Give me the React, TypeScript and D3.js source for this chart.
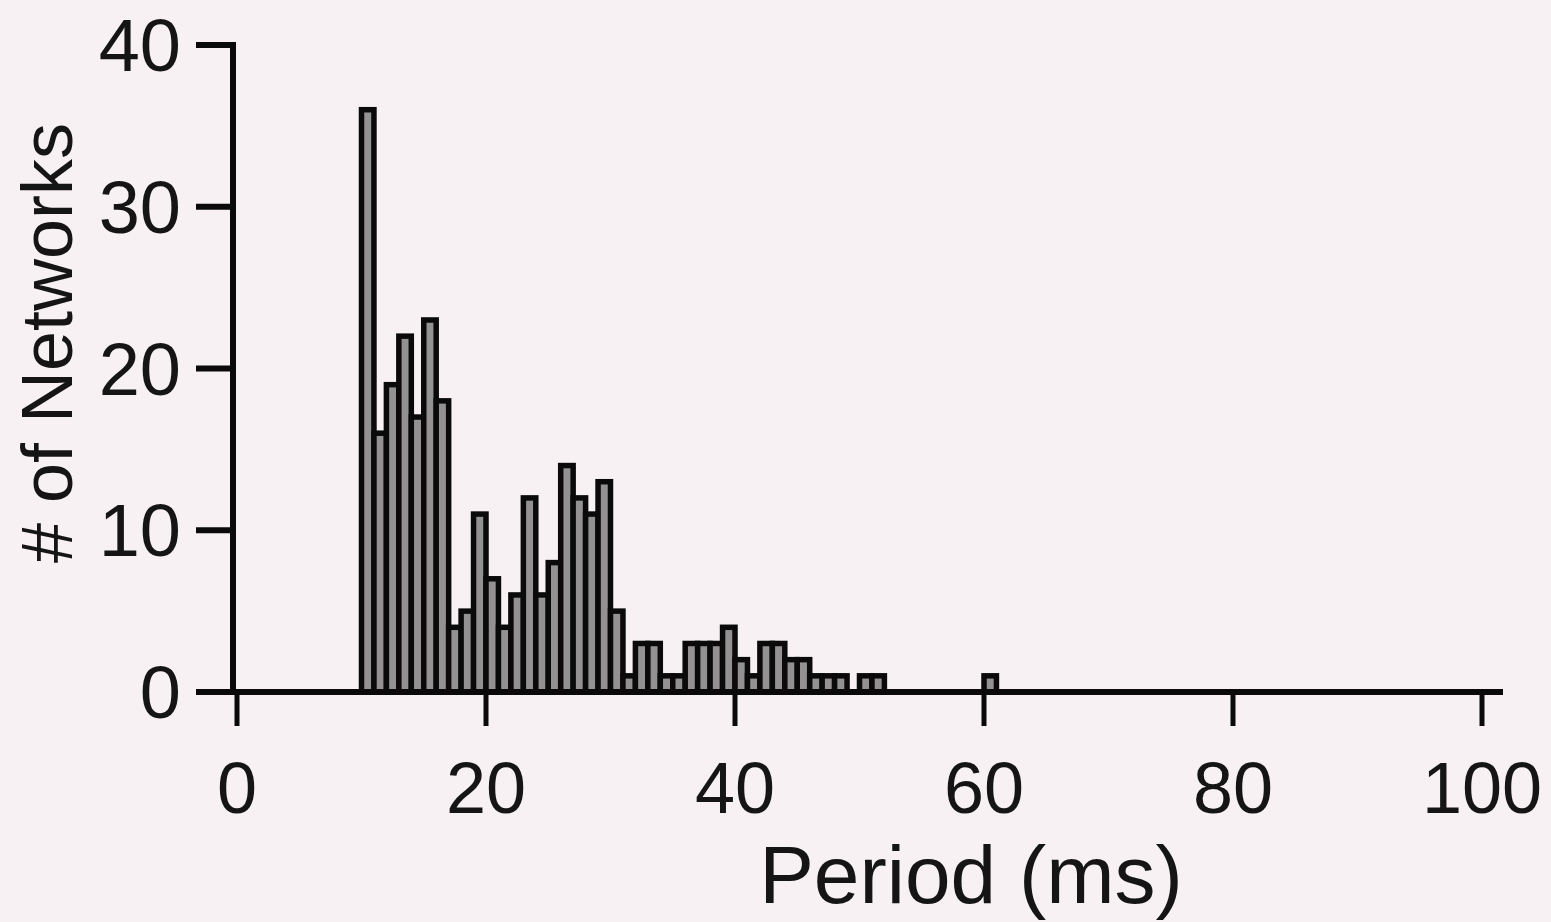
import { useEffect, useRef } from 'react';
import * as d3 from 'd3';

// histogram bins, 1 ms wide, left edge in ms
const binStarts = [
  10, 11, 12, 13, 14, 15, 16, 17, 18, 19,
  20, 21, 22, 23, 24, 25, 26, 27, 28, 29,
  30, 31, 32, 33, 34, 35, 36, 37, 38, 39,
  40, 41, 42, 43, 44, 45, 46, 47, 48, 49,
  50, 51, 52, 53, 54, 55, 56, 57, 58, 59, 60,
];
const networkCounts = [
  36, 16, 19, 22, 17, 23, 18, 4, 5, 11,
  7, 4, 6, 12, 6, 8, 14, 12, 11, 13,
  5, 1, 3, 3, 1, 1, 3, 3, 3, 4,
  2, 1, 3, 3, 2, 2, 1, 1, 1, 0,
  1, 1, 0, 0, 0, 0, 0, 0, 0, 0, 1,
];
const xTicks = [0, 20, 40, 60, 80, 100];
const yTicks = [0, 10, 20, 30, 40];

const W = 1551;
const H = 922;
const FONT = "'Liberation Sans', Arial, Helvetica, sans-serif";

const App = () => {
  const svgRef = useRef<SVGSVGElement>(null);

  useEffect(() => {
    if (!svgRef.current) return;
    const svg = d3.select(svgRef.current);
    svg.selectAll('*').remove();

    const x = d3.scaleLinear().domain([0, 100]).range([237, 1482]);
    const y = d3.scaleLinear().domain([0, 40]).range([692, 45]);

    svg.append('rect')
      .attr('width', W)
      .attr('height', H)
      .attr('fill', '#f8f1f4');

    // bars
    const bins = binStarts.map((s, i) => ({ s, v: networkCounts[i] })).filter(d => d.v > 0);
    svg.append('g')
      .selectAll('rect')
      .data(bins)
      .enter()
      .append('rect')
      .attr('x', d => x(d.s))
      .attr('y', d => y(d.v))
      .attr('width', d => x(d.s + 1) - x(d.s))
      .attr('height', d => y(0) - y(d.v))
      .attr('fill', '#939192')
      .attr('stroke', '#0a0a0a')
      .attr('stroke-width', 5.5);

    const axisColor = '#0a0a0a';
    const yAxisX = x(0) - 4;

    // y axis
    svg.append('line')
      .attr('x1', yAxisX).attr('x2', yAxisX)
      .attr('y1', y(40)).attr('y2', y(0))
      .attr('stroke', axisColor).attr('stroke-width', 6)
      .attr('stroke-linecap', 'square');

    svg.append('g')
      .selectAll('line')
      .data(yTicks)
      .enter()
      .append('line')
      .attr('x1', 196).attr('x2', yAxisX)
      .attr('y1', d => y(d)).attr('y2', d => y(d))
      .attr('stroke', axisColor).attr('stroke-width', 6);

    svg.append('g')
      .selectAll('text')
      .data(yTicks)
      .enter()
      .append('text')
      .attr('x', 181)
      .attr('y', d => y(d) + 26)
      .attr('text-anchor', 'end')
      .style('font-family', FONT)
      .style('font-size', '74px')
      .attr('fill', '#151515')
      .text(d => d);

    // x axis
    svg.append('line')
      .attr('x1', 196).attr('x2', 1503)
      .attr('y1', y(0)).attr('y2', y(0))
      .attr('stroke', axisColor).attr('stroke-width', 6);

    svg.append('g')
      .selectAll('line')
      .data(xTicks)
      .enter()
      .append('line')
      .attr('x1', d => x(d)).attr('x2', d => x(d))
      .attr('y1', y(0)).attr('y2', 726)
      .attr('stroke', axisColor).attr('stroke-width', 5);

    svg.append('g')
      .selectAll('text')
      .data(xTicks)
      .enter()
      .append('text')
      .attr('x', d => x(d))
      .attr('y', 813)
      .attr('text-anchor', 'middle')
      .style('font-family', FONT)
      .style('font-size', '72px')
      .attr('fill', '#151515')
      .text(d => d);

    // titles
    svg.append('text')
      .attr('x', 971)
      .attr('y', 903)
      .attr('text-anchor', 'middle')
      .style('font-family', FONT)
      .style('font-size', '82px')
      .attr('fill', '#151515')
      .text('Period (ms)');

    svg.append('text')
      .attr('transform', 'translate(72,343) rotate(-90)')
      .attr('text-anchor', 'middle')
      .style('font-family', FONT)
      .style('font-size', '72px')
      .attr('fill', '#151515')
      .text('# of Networks');
  }, []);

  return (
    <svg
      ref={svgRef}
      width={W}
      height={H}
      style={{ position: 'absolute', left: 0, top: 0, display: 'block' }}
    />
  );
};

export default App;
